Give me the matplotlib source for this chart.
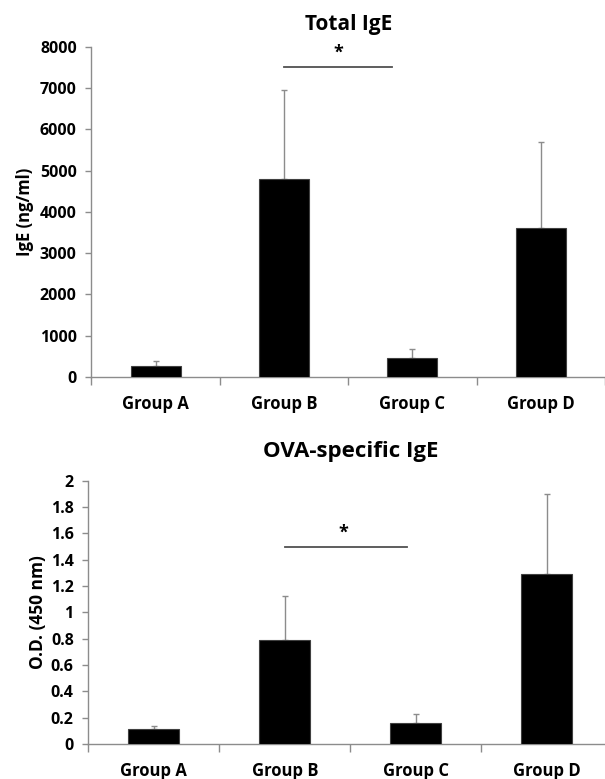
import numpy as np
import matplotlib.pyplot as plt

groups = ["Group A", "Group B", "Group C", "Group D"]

total_ige = [260, 4800, 450, 3620]
total_ige_err = [130, 2160, 220, 2080]

ova_ige = [0.11, 0.79, 0.16, 1.29]
ova_ige_err = [0.03, 0.33, 0.07, 0.61]

plt.rcParams['font.family'] = ['Open Sans', 'DejaVu Sans']
plt.rcParams['font.weight'] = 'bold'

fig = plt.figure(figsize=(6.05, 7.79), dpi=100)
ax1 = fig.add_axes([0.151, 0.516, 0.849, 0.424])
ax2 = fig.add_axes([0.146, 0.045, 0.866, 0.338])

grey = '#8c8c8c'
x = np.arange(len(groups))


def style(ax, ymax, yticks, ticklabels):
    ax.bar(x, ax.vals, width=0.39, color='black', edgecolor='#404040', linewidth=0.8, zorder=3)
    ax.errorbar(x, ax.vals, yerr=[np.zeros(len(x)), ax.errs], fmt='none',
                ecolor=grey, elinewidth=1, capsize=2.5, capthick=1, zorder=2)
    ax.set_xlim(-0.5, 3.5)
    ax.set_ylim(0, ymax)
    ax.set_yticks(yticks)
    ax.set_yticklabels(ticklabels, fontsize=11.5, fontweight='bold')
    ax.set_xticks(x)
    ax.set_xticklabels(groups, fontsize=12, fontweight='bold')
    ax.tick_params(axis='x', length=0, pad=13)
    ax.tick_params(axis='y', length=4.5, color=grey, width=1, pad=6)
    ax.set_xticks(np.arange(-0.5, 3.6, 1), minor=True)
    ax.tick_params(axis='x', which='minor', length=6, color=grey, width=1, direction='out')
    for s in ['top', 'right']:
        ax.spines[s].set_visible(False)
    for s in ['left', 'bottom']:
        ax.spines[s].set_color(grey)
        ax.spines[s].set_linewidth(1)


ax1.vals, ax1.errs = total_ige, total_ige_err
style(ax1, 8000, range(0, 8001, 1000), [str(v) for v in range(0, 8001, 1000)])
ax1.set_ylabel("IgE (ng/ml)", fontsize=12, fontweight='bold', labelpad=4)
ax1.set_title("Total IgE", fontsize=15, fontweight='bold', pad=12)
ax1.plot([1, 1.84], [7515, 7515], color='#505050', lw=1.3)
ax1.text(1.42, 7850, "*", ha='center', va='center', fontsize=13, fontweight='bold')

ov_ticks = np.round(np.arange(0, 2.01, 0.2), 1)
ov_labels = ['0', '0.2', '0.4', '0.6', '0.8', '1', '1.2', '1.4', '1.6', '1.8', '2']
ax2.vals, ax2.errs = ova_ige, ova_ige_err
style(ax2, 2, ov_ticks, ov_labels)
ax2.set_ylabel("O.D. (450 nm)", fontsize=12.5, fontweight='bold', labelpad=3)
ax2.set_title("OVA-specific IgE", fontsize=16, fontweight='bold', pad=17)
ax2.plot([1, 1.93], [1.498, 1.498], color='#505050', lw=1.3)
ax2.text(1.45, 1.605, "*", ha='center', va='center', fontsize=13, fontweight='bold')

fig.savefig("out.png", dpi=100)
